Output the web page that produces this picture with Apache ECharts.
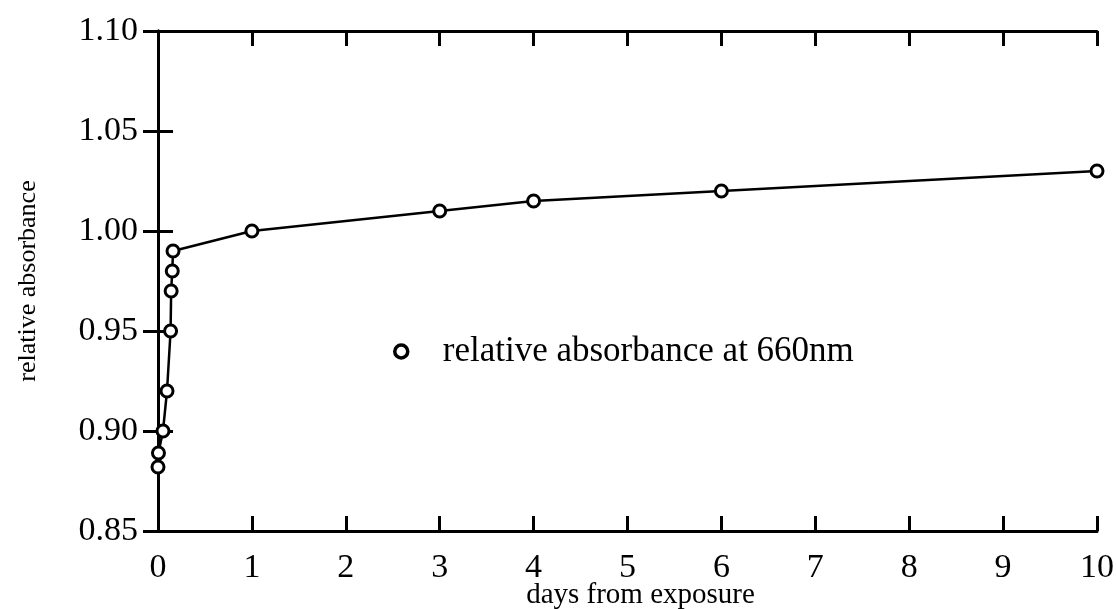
<!DOCTYPE html>
<html>
<head>
<meta charset="utf-8">
<script src="https://cdn.jsdelivr.net/npm/echarts@6/dist/echarts.min.js"></script>
<style>html,body{margin:0;padding:0;background:#fff}#c{width:1116px;height:609px}</style>
</head>
<body>
<div id="c"></div>
<script>
const days = [0, 0.005, 0.053, 0.096, 0.134, 0.14, 0.152, 0.16, 1, 3, 4, 6, 10];
const absorbance = [0.882, 0.889, 0.90, 0.92, 0.95, 0.97, 0.98, 0.99, 1.00, 1.01, 1.015, 1.02, 1.03];
const seriesName = 'relative absorbance at 660nm';
const xTicks = [0,1,2,3,4,5,6,7,8,9,10];

const font = 'Liberation Serif, Times New Roman, serif';
const chart = echarts.init(document.getElementById('c'));
const axisLine = {show: true, lineStyle: {color: '#000', width: 3}};
const tick = {show: true, inside: true, length: 15, lineStyle: {color: '#000', width: 3}};
chart.setOption({
  animation: false,
  backgroundColor: '#fff',
  grid: {left: 158, right: 19, top: 31, bottom: 78, containLabel: false, outerBoundsMode: 'none'},
  legend: {
    left: 388, top: 329, itemWidth: 13, itemHeight: 13,
    icon: 'circle',
    itemStyle: {color: '#fff', borderColor: '#000', borderWidth: 3.5},
    textStyle: {fontFamily: font, fontSize: 35, color: '#000', padding: [0,0,0,30]},
    data: [seriesName]
  },
  xAxis: [{
    type: 'value', min: 0, max: 10, interval: 1,
    axisLine, axisTick: tick, splitLine: {show: false},
    axisLabel: {fontFamily: font, fontSize: 34, color: '#000', margin: 20,
      formatter: v => xTicks.includes(v) ? String(v) : ''},
    name: 'days from exposure', nameLocation: 'middle', nameGap: 50, nameMoveOverlap: false,
    nameTextStyle: {fontFamily: font, fontSize: 29, color: '#000', padding: [0,0,0,26]}
  }, {
    type: 'value', min: 0, max: 10, interval: 1, position: 'top',
    axisLine, axisTick: tick, axisLabel: {show: false}, splitLine: {show: false}
  }],
  yAxis: [{
    type: 'value', min: 0.85, max: 1.10, interval: 0.05,
    axisLine, axisTick: tick, splitLine: {show: false},
    axisLabel: {fontFamily: font, fontSize: 34, color: '#000', margin: 20,
      formatter: v => v.toFixed(2)},
    name: 'relative absorbance', nameLocation: 'middle', nameGap: 117, nameRotate: 90, nameMoveOverlap: false,
    nameTextStyle: {fontFamily: font, fontSize: 26, color: '#000'}
  }, {
    type: 'value', min: 0.85, max: 1.10, interval: 0.05, position: 'right',
    axisLine, axisTick: tick, axisLabel: {show: false}, splitLine: {show: false}
  }],
  series: [{
    name: seriesName,
    type: 'line',
    data: days.map((d, i) => [d, absorbance[i]]),
    symbol: 'circle', symbolSize: 12,
    itemStyle: {color: '#fff', borderColor: '#000', borderWidth: 3},
    lineStyle: {color: '#000', width: 2.5},
    clip: false
  }]
});
</script>
</body>
</html>
